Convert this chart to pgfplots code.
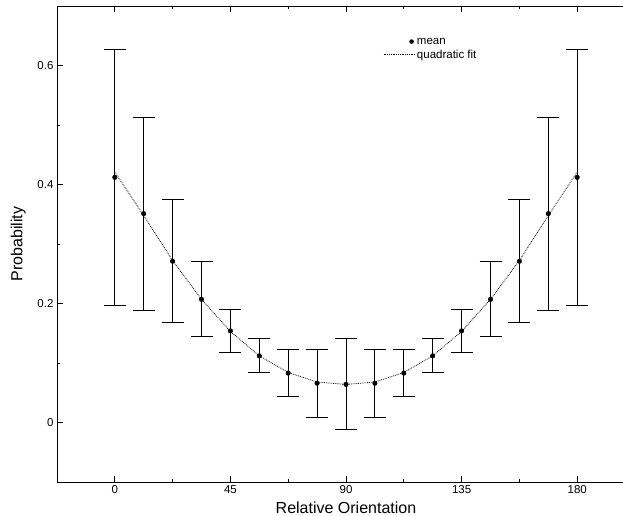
\documentclass[border=0pt]{standalone}
\usepackage{pgfplots}
\pgfplotsset{compat=1.18}
\usepackage{fontspec}
\setmainfont{Liberation Sans}

\pgfplotsset{
  meanlegend/.style={legend image code/.code={%
    \path[draw=none,fill=none] (0pt,0pt) -- (32pt,0pt);
    \fill[black,draw=none] (28pt,1pt) circle (2.3pt);}},
  fitlegend/.style={legend image code/.code={%
    \draw[##1] (0pt,0pt) -- (32pt,0pt);}},
}

\begin{document}
\begin{tikzpicture}
\begin{axis}[
    scale only axis,
    width=578pt, height=476pt,
    xmin=-22.5, xmax=202.5,
    ymin=-0.1, ymax=0.7,
    xtick={0,45,90,135,180},
    minor xtick={22.5,67.5,112.5,157.5},
    ytick={0,0.2,0.4,0.6},
    minor ytick={0.1,0.3,0.5},
    major tick length=6pt,
    minor tick length=3pt,
    every tick/.style={black, line width=0.7pt},
    axis line style={line width=0.9pt},
    tick label style={font=\fontsize{11.5}{13}\selectfont},
    /pgf/number format/assume math mode=true,
    label style={font=\fontsize{16}{18}\selectfont},
    xlabel={Relative Orientation},
    ylabel={Probability},
    xlabel shift=1pt,
    ylabel shift=5pt,
    legend cell align=left,
    legend style={at={(axis cs:104.4,0.647)}, anchor=north west,
        draw=none, fill=none, inner sep=0pt, row sep=1.5pt,
        font=\fontsize{11.5}{13}\selectfont, nodes={inner sep=1pt}},
  ]
  % mean with half-width of the error bar
  \addplot[black, only marks, mark=*, mark size=2.3pt, meanlegend,
    error bars/.cd, y dir=both, y explicit,
    error bar style={line width=0.9pt, black},
    error mark options={rotate=90, mark size=11pt, line width=0.9pt, black}]
    table[x=x, y=y, y error=e] {
    x      y      e
    0      0.412  0.2145
    11.25  0.351  0.1625
    22.5   0.271  0.1035
    33.75  0.207  0.063
    45     0.154  0.036
    56.25  0.112  0.0285
    67.5   0.083  0.040
    78.75  0.066  0.057
    90     0.064  0.0765
    101.25 0.066  0.057
    112.5  0.083  0.040
    123.75 0.112  0.0285
    135    0.154  0.036
    146.25 0.207  0.063
    157.5  0.271  0.1035
    168.75 0.351  0.1625
    180    0.412  0.2145
  };
  \addlegendentry{mean}
  \addplot[black, densely dotted, line width=0.8pt, no marks, fitlegend]
    coordinates {
    (0,0.421) (11.25,0.348) (22.5,0.272) (33.75,0.207) (45,0.153)
    (56.25,0.112) (67.5,0.084) (78.75,0.068) (90,0.064)
    (101.25,0.068) (112.5,0.084) (123.75,0.112) (135,0.153)
    (146.25,0.207) (157.5,0.272) (168.75,0.348) (180,0.421)
  };
  \addlegendentry{quadratic fit}
  \coordinate (sw) at (rel axis cs:0,0);
  \coordinate (ne) at (rel axis cs:1,1);
\end{axis}
\pgfresetboundingbox
\path ([xshift=-57pt,yshift=-34pt]sw) rectangle ([xshift=566pt,yshift=6pt]sw |- ne);
\end{tikzpicture}
\end{document}
